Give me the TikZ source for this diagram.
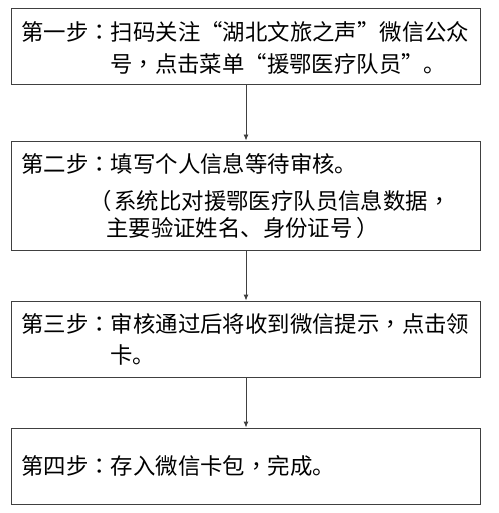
\documentclass[tikz,border=0pt]{standalone}
\usepackage{fontspec}
\newfontfamily\cjk{Noto Sans CJK SC}
\newfontfamily\cjktc{Noto Sans CJK TC}
\newcommand{\cn}{{\cjktc ：}}
\newcommand{\cm}{{\cjktc ，}}
\usetikzlibrary{arrows.meta}
\begin{document}
\begin{tikzpicture}[x=1pt,y=-1pt,
  box/.style={draw=black!75,line width=0.9pt,minimum width=469pt,inner sep=0pt},
  txt/.style={anchor=base west,inner sep=0pt,font=\cjk\fontsize{22.4}{26}\selectfont},
  arr/.style={draw=black!75,line width=0.9pt,-{Latex[length=6pt,width=5pt]}}]
\useasboundingbox (0,0) rectangle (498,513);
\node[box,minimum height=76pt] (b1) at (246,46) {};
\node[box,minimum height=109pt] (b2) at (246,195.5) {};
\node[box,minimum height=76pt] (b3) at (246,339) {};
\node[box,minimum height=76pt] (b4) at (246,466) {};
\draw[arr] (b1.south) -- (b2.north);
\draw[arr] (b2.south) -- (b3.north);
\draw[arr] (b3.south) -- (b4.north);
\node[txt] (t1a) at (21,40.5) {第一步\cn 扫码关注“湖北文旅之声”微信公众};
\node[txt] (t1b) at (110,72.5) {号\cm 点击菜单“援鄂医疗队员”。};
\node[txt] (t2a) at (21,172.5) {第二步\cn 填写个人信息等待审核。};
\node[txt] (t2b) at (89,209.5) {（\hspace{3pt}系统比对援鄂医疗队员信息数据\cm};
\node[txt] (t2c) at (106,236) {主要验证姓名、身份证号\hspace{4pt}）};
\node[txt] (t3a) at (21,332) {第三步\cn 审核通过后将收到微信提示\cm 点击领};
\node[txt] (t3b) at (110,363) {卡。};
\node[txt] (t4a) at (21,474.5) {第四步\cn 存入微信卡包\cm 完成。};
\end{tikzpicture}
\end{document}
